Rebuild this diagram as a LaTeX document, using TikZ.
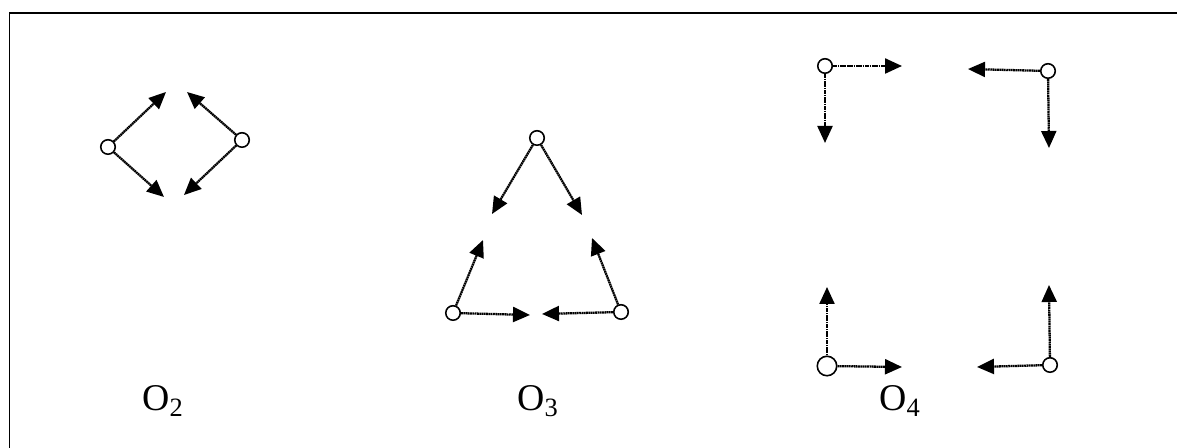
\documentclass[tikz,border=0pt]{standalone}
\usepackage{fontspec}
\setmainfont{Liberation Serif}
\usetikzlibrary{arrows.meta}

\tikzset{
  site/.style={circle,draw,line width=0.9pt,fill=white,inner sep=0pt,minimum size=0.29cm},
  bigsite/.style={site,minimum size=0.39cm},
  bond/.style={-{Triangle[length=0.34cm,width=0.3cm]},line width=1.3pt,dash pattern=on 1pt off 0.3pt},
  lbl/.style={anchor=base west,inner sep=0pt,font=\fontsize{21.5}{24}\selectfont}
}

\begin{document}
\begin{tikzpicture}[x=0.02cm,y=-0.02cm]
  \useasboundingbox (0,0) rectangle (1177,448);
  \draw[line width=1.1pt] (9.5,460) -- (9.5,13) -- (1190,13);

  % O2
  \node[site] (p1) at (108,147) {};
  \node[site] (p2) at (242,140) {};
  \coordinate (p1a) at (166,92);
  \coordinate (p1b) at (164,197);
  \coordinate (p2a) at (187,92);
  \coordinate (p2b) at (184,195);
  \draw[bond] (p1) -- (p1a);
  \draw[bond] (p1) -- (p1b);
  \draw[bond] (p2) -- (p2a);
  \draw[bond] (p2) -- (p2b);
  \node[lbl] (l2) at (142,411) {O\textsubscript{2}};

  % O3
  \node[site] (t1) at (537,138) {};
  \node[site] (t2) at (453,313) {};
  \node[site] (t3) at (621,312) {};
  \coordinate (t1a) at (492,214);
  \coordinate (t1b) at (582,215);
  \coordinate (t2a) at (483,240);
  \coordinate (t2b) at (530,315);
  \coordinate (t3a) at (592,238);
  \coordinate (t3b) at (542,314);
  \draw[bond] (t1) -- (t1a);
  \draw[bond] (t1) -- (t1b);
  \draw[bond] (t2) -- (t2a);
  \draw[bond] (t2) -- (t2b);
  \draw[bond] (t3) -- (t3a);
  \draw[bond] (t3) -- (t3b);
  \node[lbl] (l3) at (517,411) {O\textsubscript{3}};

  % O4
  \node[site] (q1) at (825,66) {};
  \node[site] (q2) at (1048,71) {};
  \node[bigsite] (q3) at (827,366) {};
  \node[site] (q4) at (1050,365) {};
  \coordinate (q1a) at (902,66);
  \coordinate (q1b) at (825,143);
  \coordinate (q2a) at (968,69);
  \coordinate (q2b) at (1049,148);
  \coordinate (q3a) at (827,287);
  \coordinate (q3b) at (902,367);
  \coordinate (q4a) at (977,367);
  \coordinate (q4b) at (1049,285);
  \draw[bond] (q1) -- (q1a);
  \draw[bond] (q1) -- (q1b);
  \draw[bond] (q2) -- (q2a);
  \draw[bond] (q2) -- (q2b);
  \draw[bond] (q3) -- (q3a);
  \draw[bond] (q3) -- (q3b);
  \draw[bond] (q4) -- (q4a);
  \draw[bond] (q4) -- (q4b);
  \node[lbl] (l4) at (879,411) {O\textsubscript{4}};
\end{tikzpicture}
\end{document}
